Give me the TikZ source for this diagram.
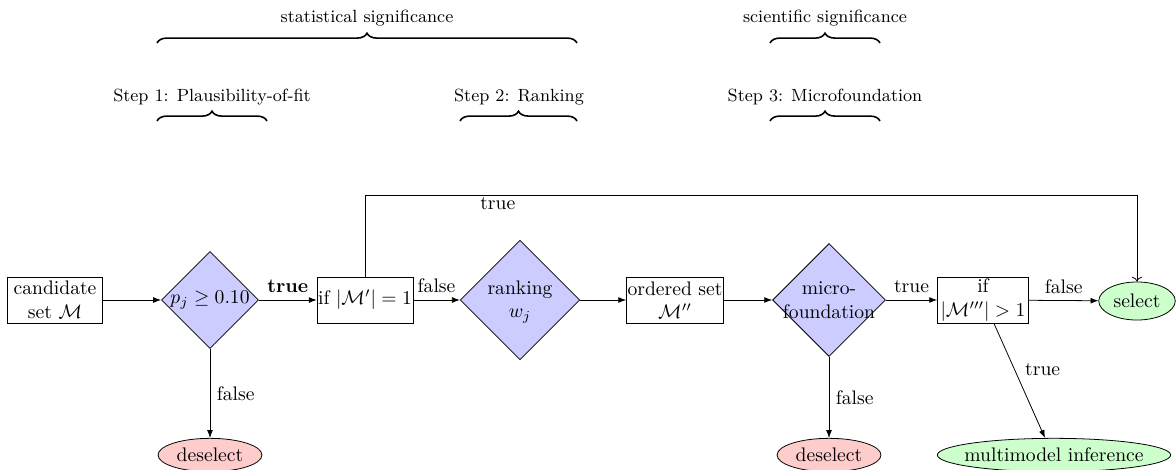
\documentclass[tikz,border=0pt]{standalone}
\usepackage{amsmath,amssymb}
\usetikzlibrary{shapes.geometric,decorations.pathreplacing,arrows.meta}
\begin{document}
\begin{tikzpicture}[x=0.51pt,y=-0.51pt,
  box/.style={draw,rectangle,inner sep=0.5pt,minimum height=23.5pt,minimum width=46.4pt,align=center},
  dec/.style={draw,diamond,aspect=1,fill=blue!20,inner sep=0pt},
  dectext/.style={align=center,inner sep=0pt},
  endred/.style={draw,ellipse,fill=red!20,minimum width=53pt,minimum height=17pt,inner sep=0pt},
  endgreen/.style={draw,ellipse,fill=green!20,inner sep=0pt},
  arr/.style={-{Latex[length=4pt,width=3pt]}},
  brc/.style={decorate,decoration={brace,amplitude=5pt},line width=0.8pt},
  lbl/.style={font=\small}]
\useasboundingbox (0,0) rectangle (1176,470);

% braces and headings
\node[lbl] (stat) at (367,18) {statistical significance};
\draw[brc] (157,43) -- (577,43) coordinate (statb);
\node[lbl] (sci) at (825,18) {scientific significance};
\draw[brc] (770,43) -- (880,43) coordinate (scib);
\node[lbl] (s1) at (212,97) {Step 1: Plausibility-of-fit};
\draw[brc] (157,121) -- (267,121) coordinate (s1b);
\node[lbl] (s2) at (519,97) {Step 2: Ranking};
\draw[brc] (460,121) -- (577,121) coordinate (s2b);
\node[lbl] (s3) at (825,97) {Step 3: Microfoundation};
\draw[brc] (770,121) -- (880,121) coordinate (s3b);

% nodes
\node[box,minimum width=48.5pt] (cand) at (55,300) {candidate\\ set $\mathcal{M}$};
\node[dec,minimum size=49.5pt] (d1) at (210,300) {};
\node[dectext] (d1t) at (d1) {$p_j \geq 0.10$};
\node[box] (b2) at (365,300) {if $|\mathcal{M}'|=1$};
\node[dec,minimum size=61pt] (d2) at (520,300) {};
\node[dectext] (d2t) at ([yshift=-1pt]d2) {ranking\\ $w_j$};
\node[box] (b3) at (675,300) {ordered set\\ $\mathcal{M}''$};
\node[dec,minimum size=57.6pt] (d3) at (829,300) {};
\node[dectext] (d3t) at (d3) {micro-\\foundation};
\node[box] (b4) at (983,300) {if\\ $|\mathcal{M}'''|>1$};
\node[endgreen,minimum width=39pt,minimum height=19.4pt] (sel) at (1137,301) {select};
\node[endred] (des1) at (210,455) {deselect};
\node[endred] (des2) at (829,455) {deselect};
\node[endgreen,minimum width=119pt,minimum height=17pt] (mm) at (1054,455) {};
\node[inner sep=0pt] (mmt) at (mm) {multimodel inference};

% connectors
\draw[arr] (cand) -- (d1);
\draw[arr] (d1) -- node[above] (l1) {\textbf{true}} (b2);
\draw[arr] (b2) -- node[above] (l2) {false} (d2);
\draw[arr] (d2) -- (b3);
\draw[arr] (b3) -- (d3);
\draw[arr] (d3) -- node[above] (l3) {true} (b4);
\draw[arr] (b4) -- node[above] (l4) {false} (sel);
\draw[arr] (d1) -- node[right] (l5) {false} (des1);
\draw[arr] (d3) -- node[right] (l6) {false} (des2);
\draw[arr] ([xshift=5.6pt]b4.south) -- node[right,pos=0.4,xshift=2pt] (l7) {true} ([xshift=-4.6pt]mm.north);
\draw[->] (b2.north) -- ++(0,-81) -| node[pos=0.086,below,inner sep=1pt] (l8) {true} (sel.north);
\end{tikzpicture}
\end{document}
